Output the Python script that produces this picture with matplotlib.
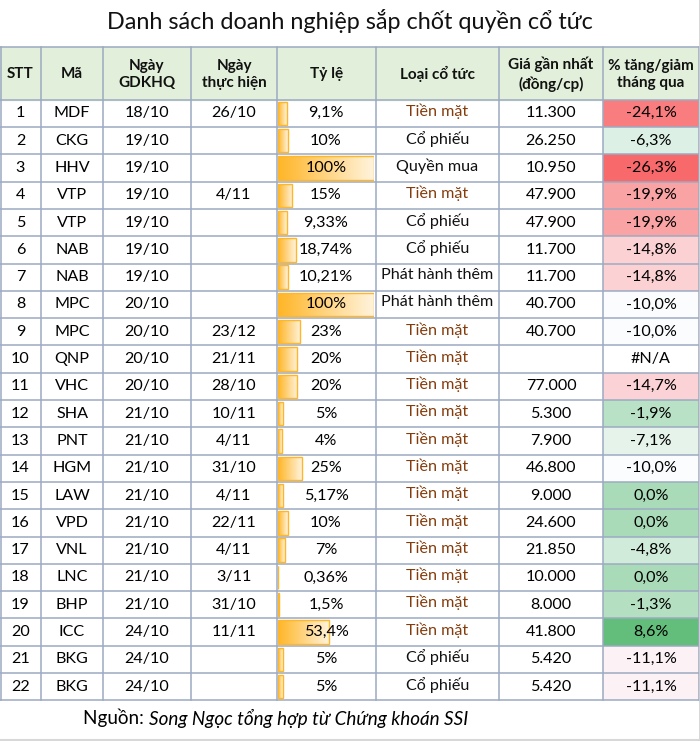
import matplotlib.pyplot as plt
import numpy as np
from matplotlib.colors import LinearSegmentedColormap, TwoSlopeNorm

plt.rcParams['font.family'] = ['Lato', 'DejaVu Sans']

stt = list(range(1, 23))
ma = ['MDF', 'CKG', 'HHV', 'VTP', 'VTP', 'NAB', 'NAB', 'MPC', 'MPC', 'QNP', 'VHC',
      'SHA', 'PNT', 'HGM', 'LAW', 'VPD', 'VNL', 'LNC', 'BHP', 'ICC', 'BKG', 'BKG']
ngay_gdkhq = ['18/10', '19/10', '19/10', '19/10', '19/10', '19/10', '19/10', '20/10',
              '20/10', '20/10', '20/10', '21/10', '21/10', '21/10', '21/10', '21/10',
              '21/10', '21/10', '21/10', '24/10', '24/10', '24/10']
ngay_th = ['26/10', '', '', '4/11', '', '', '', '', '23/12', '21/11', '28/10', '10/11',
           '4/11', '31/10', '4/11', '22/11', '4/11', '3/11', '31/10', '11/11', '', '']
ty_le = [9.1, 10, 100, 15, 9.33, 18.74, 10.21, 100, 23, 20, 20, 5, 4, 25, 5.17, 10,
         7, 0.36, 1.5, 53.4, 5, 5]
loai = ['Tiền mặt', 'Cổ phiếu', 'Quyền mua', 'Tiền mặt', 'Cổ phiếu', 'Cổ phiếu',
        'Phát hành thêm', 'Phát hành thêm', 'Tiền mặt', 'Tiền mặt', 'Tiền mặt',
        'Tiền mặt', 'Tiền mặt', 'Tiền mặt', 'Tiền mặt', 'Tiền mặt', 'Tiền mặt',
        'Tiền mặt', 'Tiền mặt', 'Tiền mặt', 'Cổ phiếu', 'Cổ phiếu']
gia = [11300, 26250, 10950, 47900, 47900, 11700, 11700, 40700, 40700, None, 77000,
       5300, 7900, 46800, 9000, 24600, 21850, 10000, 8000, 41800, 5420, 5420]
thay_doi = [-24.1, -6.3, -26.3, -19.9, -19.9, -14.8, -14.8, -10.0, -10.0, np.nan, -14.7,
            -1.9, -7.1, -10.0, 0.0, 0.0, -4.8, 0.0, -1.3, 8.6, -11.1, -11.1]
headers = ['STT', 'Mã', 'Ngày\nGDKHQ', 'Ngày\nthực hiện', 'Tỷ lệ', 'Loại cổ tức',
           'Giá gần nhất\n(đồng/cp)', '% tăng/giảm\ntháng qua']

W, H = 700, 741
col_edges = [0, 41, 103, 191, 277, 376, 499, 603, 699]
head_top, row_top, row_h = 47, 99.7, 27.3
n = len(stt)
row_edges = row_top + row_h * np.arange(n + 1)
row_c = row_top + row_h * (np.arange(n) + 0.5)
col_c = [(a + b) / 2 for a, b in zip(col_edges[:-1], col_edges[1:])]

fig = plt.figure(figsize=(W / 100, H / 100), dpi=100)
ax = fig.add_axes([0, 0, 1, 1])
ax.set_xlim(0, W)
ax.set_ylim(H, 0)
ax.axis('off')

fs = 11.6
grid_c = '#9caac2'

# title
ax.text(W / 2, 21, 'Danh sách doanh nghiệp sắp chốt quyền cổ tức', ha='center',
        va='center', fontsize=16.8, color='#111111')

# header
ax.fill_between([0, col_edges[-1]], head_top, row_top, color='#e2efda', zorder=0)
for x, h in zip(col_c, headers):
    ax.text(x, (head_top + row_top) / 2 + 1, h, ha='center', va='center', fontsize=11,
            fontweight='bold', linespacing=1.3, color='#111111')

# heatmap column
cmap = LinearSegmentedColormap.from_list('excel3', ['#f8696b', '#fcfcff', '#63be7b'])
norm = TwoSlopeNorm(vmin=np.nanmin(thay_doi), vcenter=-10.0, vmax=np.nanmax(thay_doi))
C = np.ma.masked_invalid(np.array(thay_doi).reshape(-1, 1))
ax.pcolormesh([col_edges[7], col_edges[8]], row_edges, C, cmap=cmap, norm=norm, zorder=1)

# grid
for x in col_edges[1:]:
    ax.plot([x, x], [head_top, row_edges[-1]], color=grid_c, lw=1.1, zorder=2)
ax.plot([0.5, 0.5], [head_top, row_edges[-1]], color=grid_c, lw=1.1, zorder=2)
for y in [head_top] + list(row_edges):
    ax.plot([0, col_edges[-1]], [y, y], color=grid_c, lw=1.1, zorder=2)
# outer frame edges
ax.plot([W - 0.5, W - 0.5], [0, H], color='#d0d0d0', lw=1.2, zorder=2)
ax.plot([0, W], [H - 1, H - 1], color='#d8d8d8', lw=1.5, zorder=2)

# cell texts
for i in range(n):
    y = row_c[i]
    ax.text(col_c[0], y, str(stt[i]), ha='center', va='center', fontsize=fs)
    ax.text(col_c[1], y, ma[i], ha='center', va='center', fontsize=fs)
    ax.text(col_c[2], y, ngay_gdkhq[i], ha='center', va='center', fontsize=fs)
    ax.text(col_c[3], y, ngay_th[i], ha='center', va='center', fontsize=fs)
    ax.text(col_c[5], y - 2, loai[i], ha='center', va='center', fontsize=fs,
            color='#843c0c' if loai[i] == 'Tiền mặt' else '#111111')
    if gia[i] is not None:
        ax.text(col_c[6], y, f'{gia[i]:,}'.replace(',', '.'), ha='center', va='center',
                fontsize=fs)
    v = thay_doi[i]
    lab = '#N/A' if np.isnan(v) else f'{v:.1f}'.replace('.', ',') + '%'
    ax.text(col_c[7], y, lab, ha='center', va='center', fontsize=fs, zorder=3)

# data bars in "Tỷ lệ"
bx0, bx1 = 278, 374
bax = fig.add_axes([bx0 / W, (H - row_edges[-1]) / H, (bx1 - bx0) / W,
                    (row_edges[-1] - row_top) / H])
bax.axis('off')
bars = bax.barh(np.arange(n), ty_le, height=0.86, facecolor='none',
                edgecolor='#ffb628', lw=1.0, zorder=3)
grad = LinearSegmentedColormap.from_list('bar', ['#ffb628', '#fff3dc'])
g = np.linspace(0, 1, 64).reshape(1, -1)
for i, b in enumerate(bars):
    im = bax.imshow(g, cmap=grad, aspect='auto', zorder=2,
                    extent=[0, max(ty_le[i], 0.01), i + 0.43, i - 0.43])
    im.set_clip_path(b)
for i, v in enumerate(ty_le):
    bax.text(50, i, f'{v:g}'.replace('.', ',') + '%', ha='center', va='center',
             fontsize=fs, zorder=5)
bax.set_xlim(0, 100)
bax.set_ylim(n - 0.5, -0.5)

# footer
t = ax.text(83, 718, 'Nguồn: ', ha='left', va='center', fontsize=13.6)
ax.annotate('Song Ngọc tổng hợp từ Chứng khoán SSI', xy=(1, 0.5), xycoords=t,
            ha='left', va='center', fontsize=13.6, fontstyle='italic')

fig.savefig('out.png', dpi=100)
